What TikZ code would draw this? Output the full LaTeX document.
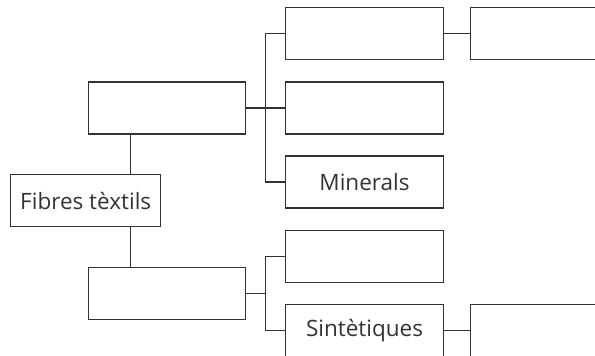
\documentclass[tikz,border=0pt]{standalone}
\usepackage{fontspec}
\setmainfont{Open Sans}
\begin{document}
\begin{tikzpicture}[x=1pt,y=1pt,
  box/.style={draw=linec, line width=1.3pt, minimum width=157.6pt, minimum height=52pt, inner sep=0pt, text=linec, font=\fontsize{22.5}{26}\selectfont},
  conn/.style={draw=linec, line width=1.3pt}]
\definecolor{linec}{HTML}{333333}
\useasboundingbox (0,0) rectangle (595,356);
\begin{scope}
\clip (0,0) rectangle (595,356);
\node[box] (L1) at (167,248) {};
\node[box, minimum width=150pt] (fib) at (85.7,155.3) {Fibres tèxtils};
\node[box] (L2) at (167,62.5) {};
\node[box] (A) at (364.5,322.5) {};
\node[box] (B) at (549.2,322.5) {};
\node[box] (C) at (364.5,248) {};
\node[box] (D) at (364.5,174) {Minerals};
\node[box] (E) at (364.5,99.5) {};
\node[box] (S) at (364.5,25.3) {Sintètiques};
\node[box] (F) at (549.2,25.3) {};
\coordinate (bus) at (265.7,0);
\coordinate (spine) at (130.7,0);
\draw[conn] (L1.east) -- (C.west);
\draw[conn] (A.west) -- (A.west -| bus) -- (D.west -| bus) -- (D.west);
\draw[conn] (A.east) -- (B.west);
\draw[conn] (L1.south -| spine) -- (fib.north -| spine);
\draw[conn] (fib.south -| spine) -- (L2.north -| spine);
\draw[conn] (L2.east) -- (L2.east -| bus);
\draw[conn] (E.west) -- (E.west -| bus) -- (S.west -| bus) -- (S.west);
\draw[conn] (S.east) -- (F.west);
\end{scope}
\end{tikzpicture}
\end{document}
